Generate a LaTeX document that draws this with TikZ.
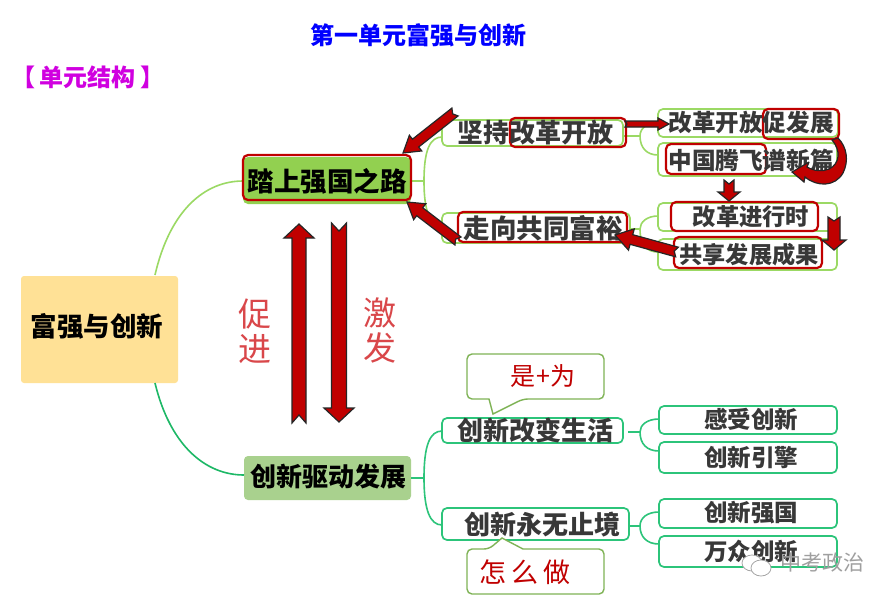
\documentclass[tikz,border=0pt]{standalone}
\usepackage{fontspec}
\setmainfont{Noto Sans CJK SC}
\usetikzlibrary{calc}
\definecolor{lgreen}{HTML}{9BD964}
\definecolor{dgreen}{HTML}{2CC47A}
\definecolor{cbred}{HTML}{C00000}
\definecolor{txt}{HTML}{383838}
\definecolor{rootc}{HTML}{FFE196}
\definecolor{anodec}{HTML}{92D050}
\definecolor{bnodec}{HTML}{A9D18E}
\definecolor{handred}{HTML}{D9474A}
\definecolor{callcol}{HTML}{7FB356}
\definecolor{rootlow}{HTML}{1DB866}
\definecolor{subcol}{HTML}{D000E0}
\tikzset{
  x=1pt,y=-1pt,
  gbox/.style={draw=lgreen,line width=1.7pt,rounded corners=5pt,fill=white,inner sep=0pt},
  dbox/.style={draw=dgreen,line width=1.7pt,rounded corners=5pt,fill=white,inner sep=0pt},
  rbox/.style={draw=cbred,line width=2.2pt,rounded corners=5pt,inner sep=0pt},
  lab/.style={inner sep=0pt,text=txt,font=\bfseries\fontsize{#1}{#1}\selectfont},
  blab/.style={inner sep=0pt,text=black,font=\bfseries\fontsize{#1}{#1}\selectfont},
  hand/.style={inner sep=0pt,font=\fontsize{#1}{#1}\selectfont},
  lconn/.style={draw=lgreen,line width=1.6pt},
  dconn/.style={draw=dgreen,line width=1.6pt},
  redarrow/.style={draw=black!85,fill=cbred,line width=1.2pt,miter limit=3},
}
\newcommand\blockarrow[6]{%
  \pgfpointdiff{\pgfpointanchor{#1}{center}}{\pgfpointanchor{#2}{center}}%
  \pgfgetlastxy{\bax}{\bay}%
  \pgfmathsetmacro\baang{atan2(\bay,\bax)}%
  \pgfmathsetmacro\balen{veclen(\bax,\bay)}%
  \pgfmathsetmacro\babase{\balen-#5}%
  \begin{scope}[shift={(#1)},rotate=\baang]
    \draw[redarrow] (0pt,#3pt) -- (\babase pt,#3pt) -- (\babase pt,#4pt) -- (\balen pt,0pt)
      -- (\babase pt,-#4pt) -- (\babase pt,-#3pt) -- (0pt,-#3pt) -- (#6pt,0pt) -- cycle;
  \end{scope}}
\newcommand\mybox[6]{% name, style, x1, y1, x2, y2
  \node[#2,minimum width=#5pt-#3pt,minimum height=#6pt-#4pt] (#1) at ({(#3+#5)/2},{(#4+#6)/2}) {};}
\begin{document}
\begin{tikzpicture}
\useasboundingbox (0,0) rectangle (894,603);
\fill[white] (0,0) rectangle (894,603);

% titles
\node[inner sep=0pt,text=blue,font=\bfseries\fontsize{24}{24}\selectfont] (title) at (418,35) {第一单元富强与创新};
\node[inner sep=0pt,text=subcol,font=\bfseries\fontsize{24}{24}\selectfont] (sub) at (88,77) {【\hspace{5pt}单元结构\hspace{5pt}】};

% main nodes
\mybox{root}{fill=rootc,rounded corners=3pt,inner sep=0pt}{21}{276}{178}{383}
\mybox{a}{fill=anodec,rounded corners=5pt,inner sep=0pt}{243}{157}{411}{204}
\mybox{b}{fill=bnodec,rounded corners=4pt,inner sep=0pt}{244}{456}{411}{500}

% connectors from root
\coordinate (rt) at (155,275);
\coordinate (rb) at (155,383);
\coordinate (at) at (243,181);
\coordinate (bt) at (244,475);
\draw[lconn] (rt) .. controls (170,210) and (205,181) .. (at);
\draw[dconn,draw=rootlow] (rb) .. controls (170,445) and (205,475) .. (bt);

% upper branch boxes
\mybox{a1}{gbox}{442}{120}{623}{146}
\mybox{a2}{gbox}{442}{213}{630}{243}
\mybox{a11}{gbox}{658}{109}{838}{137}
\mybox{a12}{gbox}{658}{143}{837}{176}
\mybox{a21}{gbox}{658}{203}{837}{231}
\mybox{a22}{gbox}{658}{239}{837}{270}
\coordinate (aj) at (424,181);
\coordinate (a1j) at (640,136);
\coordinate (a2j) at (640,229);
\draw[lconn] (411,181) -- (aj);
\draw[lconn] (442,137) .. controls (430,137) and (424,150) .. (aj) .. controls (424,212) and (430,225) .. (442,225);
\draw[lconn] (623,136) -- (a1j);
\draw[lconn] (658,123) .. controls (647,123) and (640,128) .. (a1j) .. controls (640,148) and (647,155) .. (658,155);
\draw[lconn] (630,229) -- (a2j);
\draw[lconn] (658,216) .. controls (647,216) and (640,222) .. (a2j) .. controls (640,245) and (647,252) .. (658,252);

% lower branch boxes
\mybox{b1}{dbox}{442}{418}{623}{443}
\mybox{b2}{dbox}{442}{508}{629}{540}
\mybox{b11}{dbox}{659}{406}{837}{434}
\mybox{b12}{dbox}{659}{442}{837}{473}
\mybox{b21}{dbox}{659}{499}{837}{528}
\mybox{b22}{dbox}{659}{536}{837}{567}
\coordinate (bj) at (424,478);
\coordinate (b1j) at (640,432);
\coordinate (b2j) at (640,526);
\draw[dconn] (411,478) -- (bj);
\draw[dconn] (442,431) .. controls (430,431) and (424,445) .. (bj) .. controls (424,510) and (430,525) .. (442,525);
\draw[dconn] (628,432) -- (b1j);
\draw[dconn] (659,419) .. controls (647,419) and (640,425) .. (b1j) .. controls (640,444) and (647,451) .. (659,451);
\draw[dconn] (629,526) -- (b2j);
\draw[dconn] (659,512) .. controls (647,512) and (640,518) .. (b2j) .. controls (640,537) and (647,544) .. (659,544);

% callouts
\draw[draw=callcol,line width=1.4pt,fill=white,rounded corners=5pt]
  (467,399) -- (467,354) -- (604,354) -- (604,399) -- (523,399)
  [sharp corners] -- (493,414) -- (489,399) [rounded corners=5pt] -- cycle;
\draw[draw=callcol,line width=1.4pt,fill=white,rounded corners=5pt]
  (467,594) -- (467,549) -- (489,549) [sharp corners] -- (502,538) -- (523,549)
  [rounded corners=5pt] -- (604,549) -- (604,594) -- cycle;
\node[hand=25,text=cbred] (c1) at (543,376) {是\hspace{1pt}+\hspace{1pt}为};
\node[hand=27,text=cbred] (c2) at (525,572) {怎\hspace{5pt}么\hspace{5pt}做};

% red outline boxes
\mybox{ra}{rbox}{243}{155}{411}{200}
\mybox{ra1}{rbox}{510}{118}{626}{147}
\mybox{ra2}{rbox}{458}{212}{627}{242}
\mybox{ra11}{rbox}{763}{109}{839}{139}
\mybox{ra12}{rbox}{666}{144}{766}{174}
\mybox{ra21}{rbox}{671}{202}{818}{231}
\mybox{ra22}{rbox}{674}{237}{822}{268}

% texts
\node[blab=26.5] (troot) at (97,326) {富强与创新};
\node[blab=26.5] (ta) at (327,181) {踏上强国之路};
\node[blab=26] (tb) at (328,477) {创新驱动发展};
\node[lab=26] (ta1) at (535,133) {坚持改革开放};
\node[lab=26.5] (ta2) at (543,228) {走向共同富裕};
\node[lab=23.6] (ta11) at (751,123) {改革开放促发展};
\node[lab=23.6] (ta12) at (751,160) {中国腾飞谱新篇};
\node[lab=23.3] (ta21) at (751,217) {改革进行时};
\node[lab=23.2] (ta22) at (749,255) {共享发展成果};
\node[lab=26] (tb1) at (535.5,430) {创新改变生活};
\node[lab=26] (tb2) at (542,525) {创新永无止境};
\node[lab=23.5] (tb11) at (751,419) {感受创新};
\node[lab=23.5] (tb12) at (751,457) {创新引擎};
\node[lab=23.5] (tb21) at (751,513) {创新强国};
\node[lab=23.5] (tb22) at (751,551) {万众创新};

% vertical side labels
\node[hand=33,text=handred,align=center] (h1) at (255,331) {促\\[2pt]进};
\node[hand=33,text=handred,align=center] (h2) at (380,330) {激\\[2pt]发};

% block arrows
\coordinate (u1) at (299,423); \coordinate (u2) at (299,224);
\coordinate (d1) at (339,223); \coordinate (d2) at (339,422);
\coordinate (e1) at (455,112); \coordinate (e2) at (403,153);
\coordinate (f1) at (458,241); \coordinate (f2) at (407,202);
\coordinate (g1) at (625,124); \coordinate (g2) at (669,124);
\coordinate (h3) at (729,180); \coordinate (h4) at (729,201);
\coordinate (i1) at (834,217); \coordinate (i2) at (834,250);
\coordinate (j1) at (677,252); \coordinate (j2) at (615,235);
\blockarrow{u1}{u2}{7}{15}{14}{8}
\blockarrow{d1}{d2}{7.5}{15}{14}{8}
\blockarrow{e1}{e2}{5}{10}{16}{3}
\blockarrow{f1}{f2}{5}{10}{16}{3}
\blockarrow{g1}{g2}{3}{6}{11}{2}
\blockarrow{h3}{h4}{5}{11}{9}{4}
\blockarrow{i1}{i2}{6}{12}{10}{4}
\blockarrow{j1}{j2}{5}{11}{17}{3}
% curved arrow
\draw[redarrow] (832,140)
  .. controls (841,150) and (840,164) .. (829,169)
  .. controls (822,172) and (814,171) .. (807,167)
  -- (809,162) -- (792,172) -- (804,182) -- (805,177)
  .. controls (817,187) and (835,187) .. (843,173)
  .. controls (849,161) and (847,147) .. (838,138) -- cycle;

% watermark
\draw[draw=gray!70,fill=white,line width=.8pt] (752,563) ellipse [x radius=10, y radius=8];
\draw[draw=gray!70,fill=white,line width=.8pt] (761,568) ellipse [x radius=10, y radius=8];
\node[hand=21,text=gray!75] (wm) at (822,563) {中考政治};
\end{tikzpicture}
\end{document}
